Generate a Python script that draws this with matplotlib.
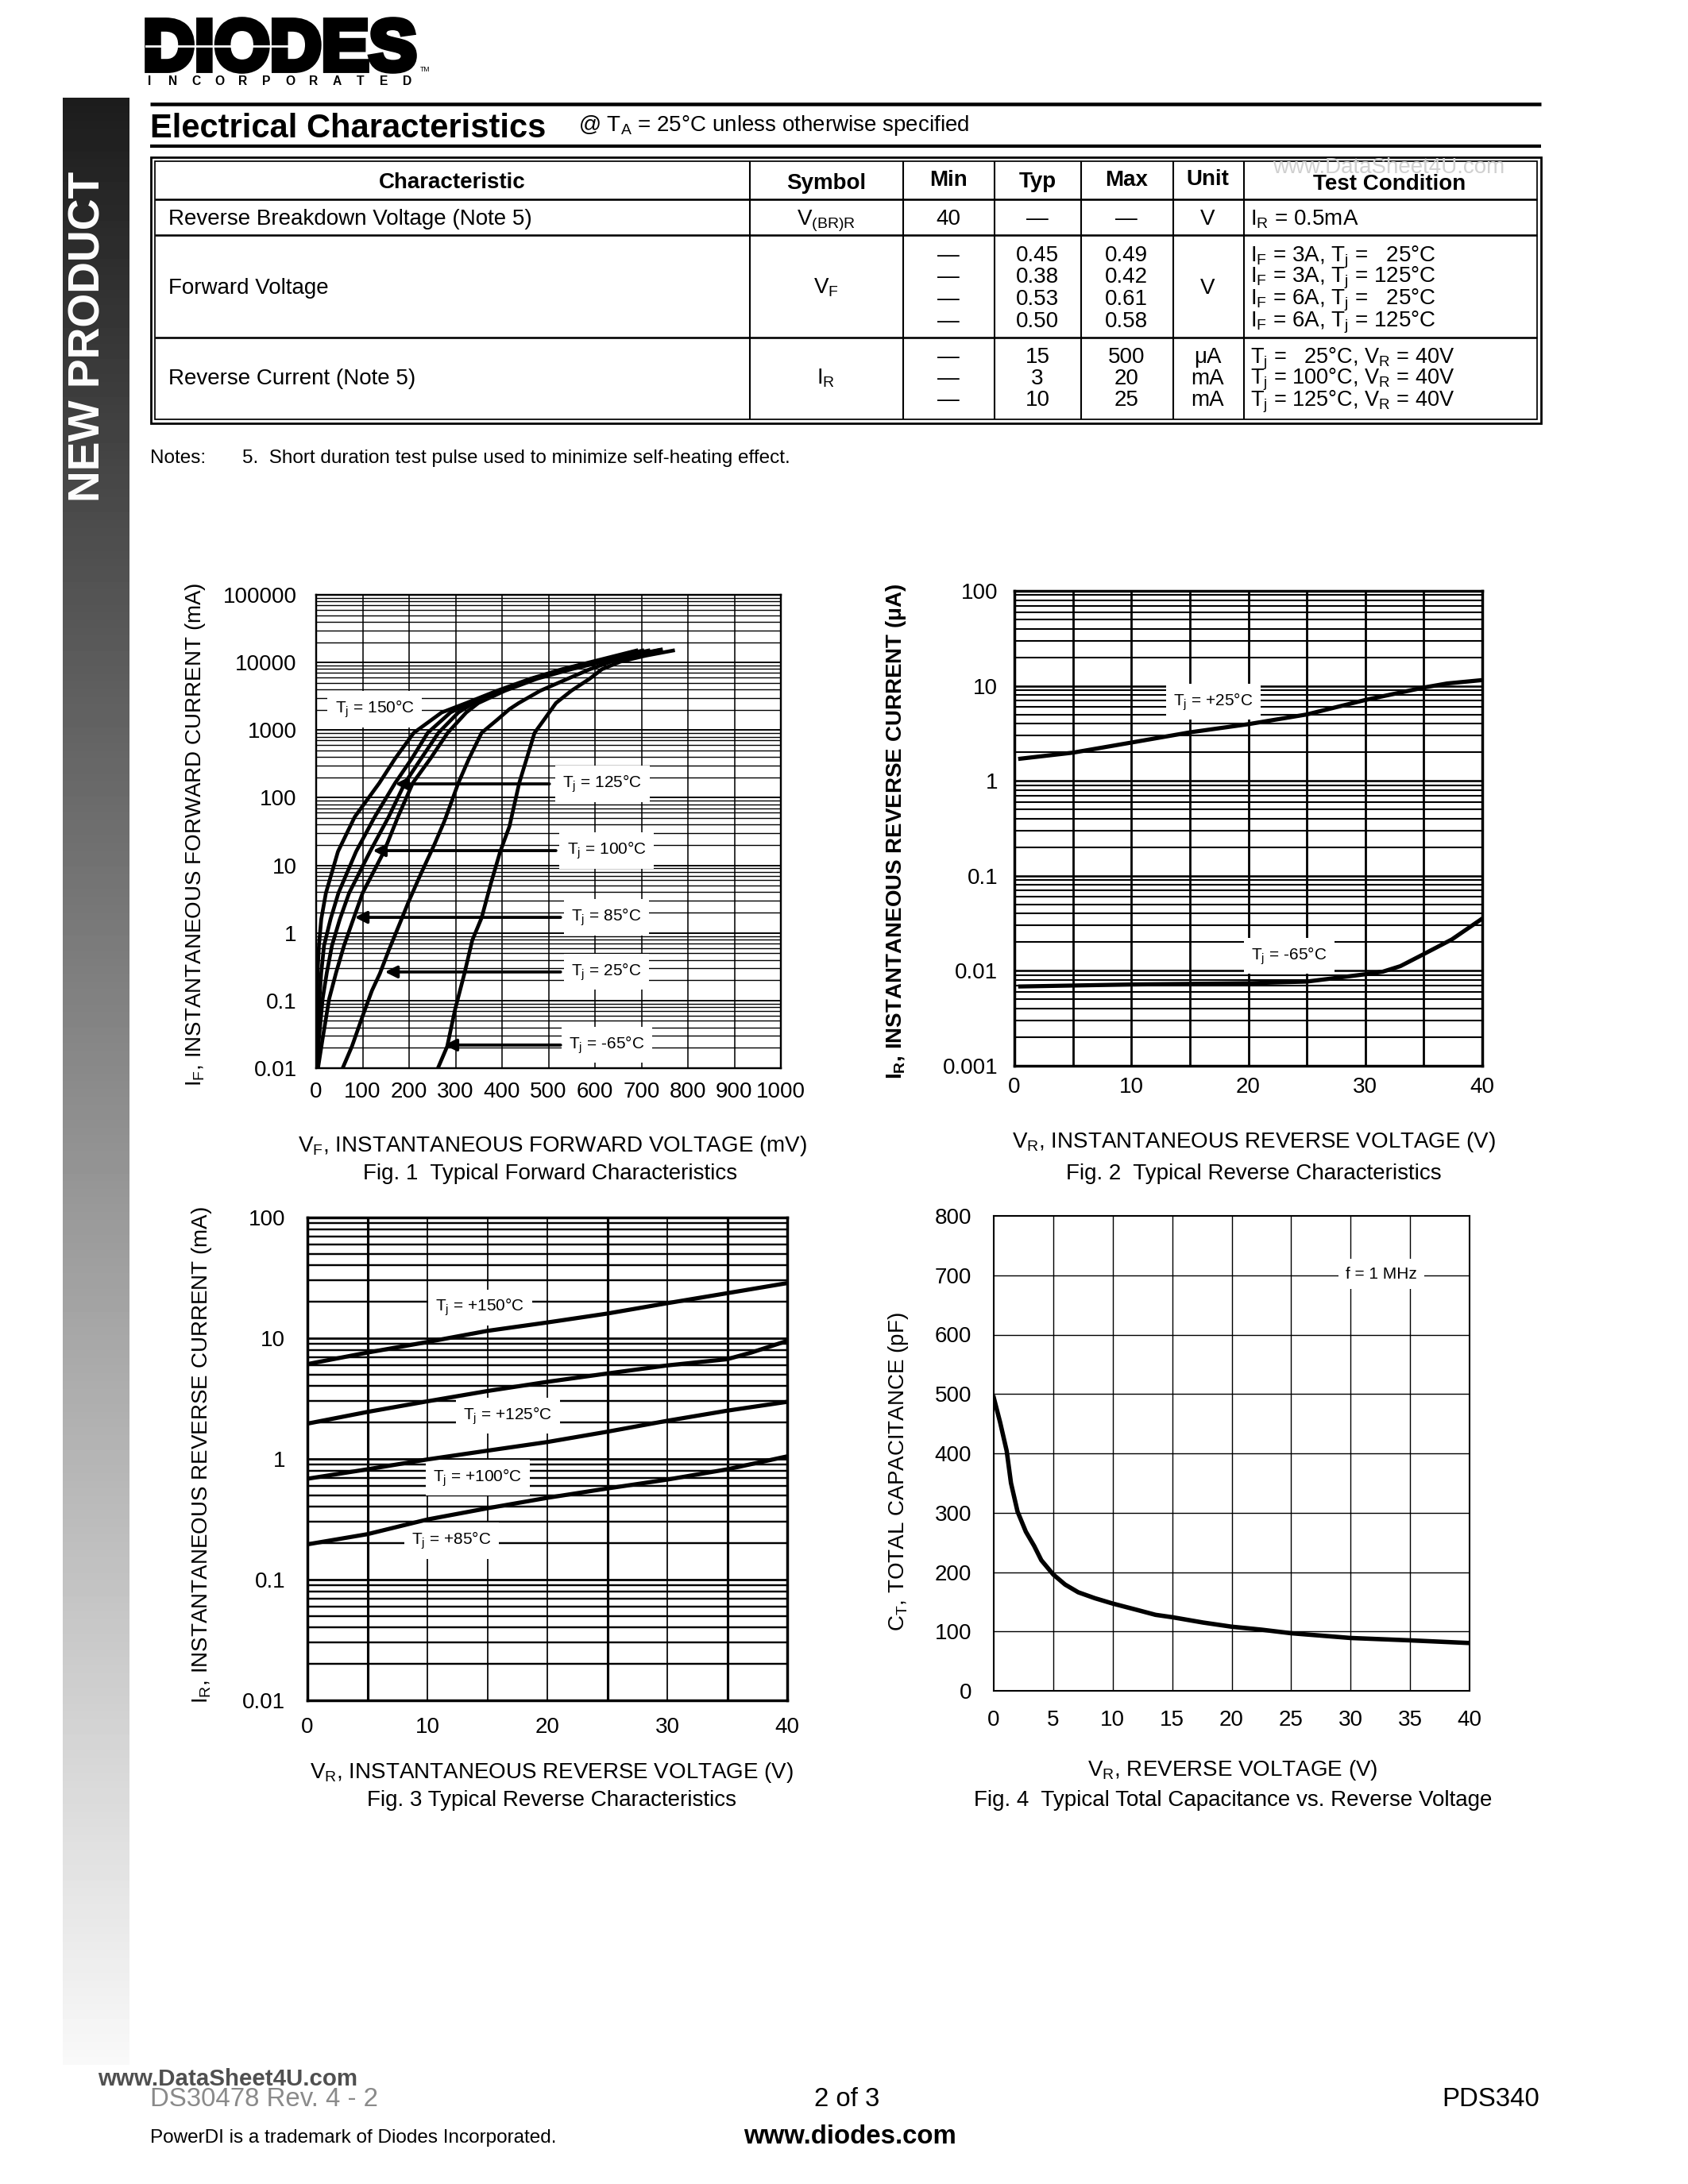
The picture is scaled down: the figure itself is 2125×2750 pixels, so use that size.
import numpy as np
import matplotlib.pyplot as plt
from matplotlib.textpath import TextPath
from matplotlib.font_manager import FontProperties
from matplotlib.path import Path
from matplotlib.patches import PathPatch, Rectangle
from matplotlib.lines import Line2D

plt.rcParams['font.family'] = ['Liberation Sans', 'DejaVu Sans']
plt.rcParams['mathtext.fontset'] = 'custom'
plt.rcParams['mathtext.rm'] = 'Liberation Sans'
plt.rcParams['mathtext.it'] = 'Liberation Sans:italic'
plt.rcParams['mathtext.bf'] = 'Liberation Sans:bold'
plt.rcParams['mathtext.default'] = 'regular'

#%% data
# Fig. 1 forward characteristics, VF (mV) vs IF (mA)
if_150 = [0.01, 0.0275, 0.106, 0.26, 0.65, 1.6, 3.9, 16, 52, 165, 380, 910, 1820, 2510, 3810, 5770, 7940, 10900, 15000]
vf_150 = [0, 0.5, 2, 3, 6, 11, 21, 47, 83, 136, 170, 210, 270, 323, 389, 462, 529, 609, 689]
vf_125 = [1, 3, 7, 11, 17, 31, 48, 86, 126, 170, 206, 240, 289, 329, 393, 466, 536, 615, 702]
vf_100 = [2, 6, 14, 23, 34, 51, 71, 116, 156, 191, 226, 263, 306, 339, 399, 469, 542, 622, 715]
vf_85 = [4, 14, 28, 43, 60, 80, 100, 146, 176, 208, 246, 283, 323, 349, 406, 476, 549, 632, 735]
if_25 = [0.01, 0.021, 0.059, 0.14, 0.25, 0.57, 1.33, 2.9, 7.4, 20, 45, 165, 380, 910, 1410, 2040, 2510, 3810, 5770, 7940, 10300, 13400, 15500]
vf_25 = [57, 77, 100, 120, 137, 157, 179, 199, 225, 254, 276, 306, 329, 356, 389, 416, 436, 482, 542, 589, 635, 695, 742]
if_m65 = [0.01, 0.021, 0.074, 0.25, 0.78, 1.67, 5.4, 15.9, 37.7, 165, 910, 1410, 2510, 3810, 5770, 7940, 10300, 12600, 15000]
vf_m65 = [262, 282, 299, 319, 336, 356, 376, 396, 416, 437, 470, 490, 516, 549, 589, 615, 655, 709, 768]

# Fig. 2 reverse current (uA) at 25 and -65 C
vr2_25 = [0.5, 5, 10, 15, 20, 25, 30, 35, 37, 40]
ir2_25 = [1.71, 1.98, 2.53, 3.24, 3.95, 5.0, 7.1, 9.6, 10.6, 11.5]
vr2_m65 = [0.5, 10, 20, 25, 30, 31.5, 33, 35, 37.4, 40]
ir2_m65 = [0.00684, 0.00718, 0.0074, 0.0077, 0.0092, 0.0098, 0.0112, 0.015, 0.0214, 0.0355]

# Fig. 3 reverse current (mA) at high temperatures
vr3 = [0, 5, 10, 15, 20, 25, 30, 35, 40]
ir3_150 = [6.1, 7.6, 9.3, 11.5, 13.5, 16, 19.5, 23.6, 28.6]
ir3_100 = [0.685, 0.82, 0.99, 1.17, 1.38, 1.68, 2.07, 2.51, 2.97]
ir3_85 = [0.196, 0.238, 0.315, 0.39, 0.476, 0.569, 0.674, 0.82, 1.05]
vr3_125 = [0, 5, 10, 15, 20, 25, 30, 35, 37, 40]
ir3_125 = [1.96, 2.45, 3.0, 3.65, 4.35, 5.1, 5.95, 6.7, 7.6, 9.5]

# Fig. 4 total capacitance (pF)
vr4 = [0, 0.54, 1.09, 1.45, 2, 2.7, 3.4, 4, 5, 6, 7.1, 8.5, 10, 12.1, 13.6, 15, 17.6, 20, 22.5, 25, 30, 35, 40]
ct4 = [494, 452, 404, 350, 302, 268, 244, 220, 196, 179, 166, 156, 147, 136, 128, 124, 115, 108, 103, 97, 89, 85, 80.5]

# table
col_char = ['Reverse Breakdown Voltage (Note 5)', 'Forward Voltage', 'Reverse Current (Note 5)']
col_sym = ['V$_{(BR)R}$', 'V$_F$', 'I$_R$']
vf_typ = ['0.45', '0.38', '0.53', '0.50']
vf_max = ['0.49', '0.42', '0.61', '0.58']
vf_cond = ['I$_F$ = 3A, T$_j$ =   25°C', 'I$_F$ = 3A, T$_j$ = 125°C',
           'I$_F$ = 6A, T$_j$ =   25°C', 'I$_F$ = 6A, T$_j$ = 125°C']
ir_typ = ['15', '3', '10']
ir_max = ['500', '20', '25']
ir_unit = ['μA', 'mA', 'mA']
ir_cond = ['T$_j$ =   25°C, V$_R$ = 40V', 'T$_j$ = 100°C, V$_R$ = 40V', 'T$_j$ = 125°C, V$_R$ = 40V']

#%% page helpers (page pixels, y down)
W, H = 2125, 2750
fig = plt.figure(figsize=(8.5, 11), dpi=250)

def fx(x):
    return x / W

def fy(y):
    return 1 - y / H

def txt(x, y, s, **kw):
    kw.setdefault('va', 'baseline')
    return fig.text(fx(x), fy(y), s, **kw)

def hl(x0, x1, y, lw):
    fig.add_artist(Line2D([fx(x0), fx(x1)], [fy(y), fy(y)], lw=lw, color='k',
                          solid_capstyle='butt', transform=fig.transFigure))

def vl(x, y0, y1, lw):
    fig.add_artist(Line2D([fx(x), fx(x)], [fy(y0), fy(y1)], lw=lw, color='k',
                          solid_capstyle='butt', transform=fig.transFigure))

def ax_px(x0, y0, x1, y1):
    return fig.add_axes([fx(x0), fy(y1), (x1 - x0) / W, (y1 - y0) / H])

#%% left bar
bar = ax_px(79, 123, 163, 2600)
grad = np.linspace(0, 1, 256).reshape(-1, 1)
bar.imshow(grad, aspect='auto', cmap='gray', vmin=-0.13, vmax=1.03, extent=[0, 1, 1, 0])
bar.set_axis_off()
txt(112, 424, 'NEW PRODUCT', rotation=90, color='white', fontsize=15.9, fontweight='bold',
    ha='center', va='center')

#%% logo
fp = FontProperties(family='Liberation Sans', weight='bold')
tp = TextPath((0, 0), 'DIODES', size=1, prop=fp)
bb = tp.get_extents()
v = (tp.vertices - [bb.x0, bb.y0]) / [bb.width, bb.height]
lx0, lx1, ly0, ly1 = 186, 521, 25, 89
v = np.column_stack([fx(lx0) + v[:, 0] * (lx1 - lx0) / W, fy(ly1) + v[:, 1] * (ly1 - ly0) / H])
fig.add_artist(PathPatch(Path(v, tp.codes), fc='black', ec='black', lw=2.2,
                         joinstyle='miter', transform=fig.transFigure))
fig.add_artist(Line2D([fx(184), fx(372)], [fy(58), fy(58)], lw=0.8, color='white', transform=fig.transFigure))
txt(529, 90, 'TM', fontsize=2.5, ha='left')
for i, ch in enumerate('INCORPORATED'):
    txt(188 + i * 29.5, 107, ch, fontsize=4.5, fontweight='bold', ha='center')

#%% header and table
hl(189, 1940, 131, 1.3)
txt(189, 173, 'Electrical Characteristics', fontsize=12, fontweight='bold')
txt(728, 165, '@ T$_A$ = 25°C unless otherwise specified', fontsize=8)
hl(189, 1940, 184, 1.2)

fig.add_artist(Rectangle((fx(190), fy(533)), (1940 - 190) / W, (533 - 198) / H, fill=False,
                         lw=0.8, ec='k', transform=fig.transFigure))
fig.add_artist(Rectangle((fx(195), fy(528)), (1935 - 195) / W, (528 - 203) / H, fill=False,
                         lw=0.5, ec='k', transform=fig.transFigure))
for yy in [251, 296, 425]:
    hl(195, 1935, yy, 0.75)
for xx in [944, 1137, 1252, 1361, 1477, 1566]:
    vl(xx, 203, 528, 0.6)

txt(1602, 218, 'www.DataSheet4U.com', fontsize=8, color='#d0d0d0')
hdr = [('Characteristic', 569, 237), ('Symbol', 1040, 238), ('Min', 1194, 234), ('Typ', 1306, 236),
       ('Max', 1418, 234), ('Unit', 1520, 233), ('Test Condition', 1749, 239)]
for s, xx, yy in hdr:
    txt(xx, yy, s, fontsize=8, fontweight='bold', ha='center')

fs = 8
# row 1
txt(212, 283, col_char[0], fontsize=fs)
txt(1040, 283, col_sym[0], fontsize=fs, ha='center')
txt(1194, 283, '40', fontsize=fs, ha='center')
txt(1306, 283, '—', fontsize=fs, ha='center')
txt(1418, 283, '—', fontsize=fs, ha='center')
txt(1520, 283, 'V', fontsize=fs, ha='center')
txt(1574, 283, 'I$_R$ = 0.5mA', fontsize=fs)
# row 2
txt(212, 370, col_char[1], fontsize=fs)
txt(1040, 370, col_sym[1], fontsize=fs, ha='center')
txt(1520, 370, 'V', fontsize=fs, ha='center')
for i, yy in enumerate([329, 356, 384, 412]):
    txt(1194, yy, '—', fontsize=fs, ha='center')
    txt(1306, yy, vf_typ[i], fontsize=fs, ha='center')
    txt(1418, yy, vf_max[i], fontsize=fs, ha='center')
    txt(1574, yy, vf_cond[i], fontsize=fs)
# row 3
txt(212, 484, col_char[2], fontsize=fs)
txt(1040, 484, col_sym[2], fontsize=fs, ha='center')
for i, yy in enumerate([457, 484, 511]):
    txt(1194, yy, '—', fontsize=fs, ha='center')
    txt(1306, yy, ir_typ[i], fontsize=fs, ha='center')
    txt(1418, yy, ir_max[i], fontsize=fs, ha='center')
    txt(1520, yy, ir_unit[i], fontsize=fs, ha='center')
    txt(1574, yy, ir_cond[i], fontsize=7.8)

txt(189, 583, 'Notes:', fontsize=7)
txt(305, 583, '5.  Short duration test pulse used to minimize self-heating effect.', fontsize=7)

#%% chart helpers
def log_grid(ax, d0, d1, lw_major, lw_minor):
    for d in range(d0, d1):
        for m in range(1, 10):
            ax.axhline(m * 10.0 ** d, color='k', lw=lw_major if m == 1 else lw_minor, zorder=1)

def style(ax, lw, xpad, ypad):
    for sp in ax.spines.values():
        sp.set_linewidth(lw)
        sp.set_zorder(5)
    ax.tick_params(length=0, labelsize=8, colors='k')
    ax.tick_params(axis='x', pad=xpad)
    ax.tick_params(axis='y', pad=ypad)
    ax.minorticks_off()

def lab(ax, x, y, s):
    ax.text(x, y, s, fontsize=6, ha='center', va='center', zorder=3,
            bbox=dict(boxstyle='square,pad=0.45', fc='white', ec='none'))

#%% Fig. 1
ax1 = ax_px(398, 749, 983, 1345)
ax1.set_yscale('log')
ax1.set_xlim(0, 1000)
ax1.set_ylim(0.01, 100000)
for xv in range(100, 1000, 100):
    ax1.axvline(xv, color='k', lw=0.45, zorder=1)
log_grid(ax1, -2, 5, 0.55, 0.4)
for vf in [vf_150, vf_125, vf_100, vf_85]:
    ax1.plot(vf, if_150, color='k', lw=1.35, zorder=4)
ax1.plot(vf_25, if_25, color='k', lw=1.35, zorder=4)
ax1.plot(vf_m65, if_m65, color='k', lw=1.35, zorder=4)
lab(ax1, 126, 2030, 'T$_j$ = 150°C')
arrows1 = [('T$_j$ = 125°C', 616, 160, 502, 170), ('T$_j$ = 100°C', 625, 16.5, 516, 122),
           ('T$_j$ = 85°C', 625, 1.7, 526, 83), ('T$_j$ = 25°C', 625, 0.265, 526, 148),
           ('T$_j$ = -65°C', 625, 0.022, 526, 276)]
for s, xt, yt, xa, xb in arrows1:
    lab(ax1, xt, yt, s)
    ax1.annotate('', xy=(xb, yt), xytext=(xa, yt), zorder=4,
                 arrowprops=dict(arrowstyle='-|>', color='k', lw=1.1, mutation_scale=9,
                                 shrinkA=0, shrinkB=0))
ax1.set_xticks(range(0, 1001, 100))
ax1.set_yticks([0.01, 0.1, 1, 10, 100, 1000, 10000, 100000])
ax1.set_yticklabels(['0.01', '0.1', '1', '10', '100', '1000', '10000', '100000'])
style(ax1, 0.7, 5, 7)
txt(695, 1450, 'V$_F$, INSTANTANEOUS FORWARD VOLTAGE (mV)', fontsize=8, ha='center')
txt(693, 1485, 'Fig. 1  Typical Forward Characteristics', fontsize=8, ha='center')
txt(246, 1051, 'I$_F$, INSTANTANEOUS FORWARD CURRENT (mA)', fontsize=8, rotation=90,
    ha='center', va='center')

#%% Fig. 2
ax2 = ax_px(1277, 744, 1866, 1342)
ax2.set_yscale('log')
ax2.set_xlim(0, 40)
ax2.set_ylim(0.001, 100)
for xv in range(5, 40, 5):
    ax2.axvline(xv, color='k', lw=0.8, zorder=1)
log_grid(ax2, -3, 2, 0.75, 0.6)
ax2.plot(vr2_25, ir2_25, color='k', lw=1.5, zorder=4)
ax2.plot(vr2_m65, ir2_m65, color='k', lw=1.5, zorder=4)
lab(ax2, 17, 6.8, 'T$_j$ = +25°C')
lab(ax2, 23.5, 0.0143, 'T$_j$ = -65°C')
ax2.set_xticks([0, 10, 20, 30, 40])
ax2.set_yticks([0.001, 0.01, 0.1, 1, 10, 100])
ax2.set_yticklabels(['0.001', '0.01', '0.1', '1', '10', '100'])
style(ax2, 1.0, 4, 6)
txt(1579, 1445, 'V$_R$, INSTANTANEOUS REVERSE VOLTAGE (V)', fontsize=8, ha='center')
txt(1578, 1485, 'Fig. 2  Typical Reverse Characteristics', fontsize=8, ha='center')
txt(1128, 1047, 'I$_R$, INSTANTANEOUS REVERSE CURRENT (μA)', fontsize=8, fontweight='bold',
    rotation=90, ha='center', va='center')

#%% Fig. 3
ax3 = ax_px(387, 1533, 991, 2141)
ax3.set_yscale('log')
ax3.set_xlim(0, 40)
ax3.set_ylim(0.01, 100)
for xv in range(5, 40, 5):
    ax3.axvline(xv, color='k', lw=0.9 if xv in (5, 25, 35) else 0.5, zorder=1)
log_grid(ax3, -2, 2, 0.8, 0.7)
ax3.plot(vr3, ir3_150, color='k', lw=1.5, zorder=4)
ax3.plot(vr3_125, ir3_125, color='k', lw=1.5, zorder=4)
ax3.plot(vr3, ir3_100, color='k', lw=1.5, zorder=4)
ax3.plot(vr3, ir3_85, color='k', lw=1.5, zorder=4)
lab(ax3, 14.4, 18, 'T$_j$ = +150°C')
lab(ax3, 16.7, 2.29, 'T$_j$ = +125°C')
lab(ax3, 14.2, 0.70, 'T$_j$ = +100°C')
lab(ax3, 12, 0.21, 'T$_j$ = +85°C')
ax3.set_xticks([0, 10, 20, 30, 40])
ax3.set_yticks([0.01, 0.1, 1, 10, 100])
ax3.set_yticklabels(['0.01', '0.1', '1', '10', '100'])
style(ax3, 1.0, 6, 8)
txt(695, 2239, 'V$_R$, INSTANTANEOUS REVERSE VOLTAGE (V)', fontsize=8, ha='center')
txt(695, 2274, 'Fig. 3 Typical Reverse Characteristics', fontsize=8, ha='center')
txt(254, 1832, 'I$_R$, INSTANTANEOUS REVERSE CURRENT (mA)', fontsize=8, rotation=90,
    ha='center', va='center')

#%% Fig. 4
ax4 = ax_px(1251, 1531, 1850, 2129)
ax4.set_xlim(0, 40)
ax4.set_ylim(0, 800)
for xv in range(5, 40, 5):
    ax4.axvline(xv, color='k', lw=0.4, zorder=1)
for yv in range(100, 800, 100):
    ax4.axhline(yv, color='k', lw=0.4, zorder=1)
ax4.plot(vr4, ct4, color='k', lw=1.6, zorder=4)
lab(ax4, 32.6, 702, 'f = 1 MHz')
ax4.set_xticks(range(0, 41, 5))
ax4.set_yticks(range(0, 801, 100))
style(ax4, 0.6, 7, 8)
txt(1552, 2236, 'V$_R$, REVERSE VOLTAGE (V)', fontsize=8, ha='center')
txt(1552, 2274, 'Fig. 4  Typical Total Capacitance vs. Reverse Voltage', fontsize=8, ha='center')
txt(1131, 1853, 'C$_T$, TOTAL CAPACITANCE (pF)', fontsize=8, rotation=90, ha='center', va='center')

#%% footer
txt(123, 2626, 'www.DataSheet4U.com', fontsize=8.5, fontweight='bold', color='#505050')
txt(189, 2652, 'DS30478 Rev. 4 - 2', fontsize=9.5, color='#8a8a8a')
txt(1066, 2652, '2 of 3', fontsize=9.5, ha='center')
txt(1938, 2652, 'PDS340', fontsize=9.5, ha='right')
txt(189, 2698, 'PowerDI is a trademark of Diodes Incorporated.', fontsize=7)
txt(1070, 2699, 'www.diodes.com', fontsize=9.5, fontweight='bold', ha='center')

fig.savefig('out.png', dpi=250)
